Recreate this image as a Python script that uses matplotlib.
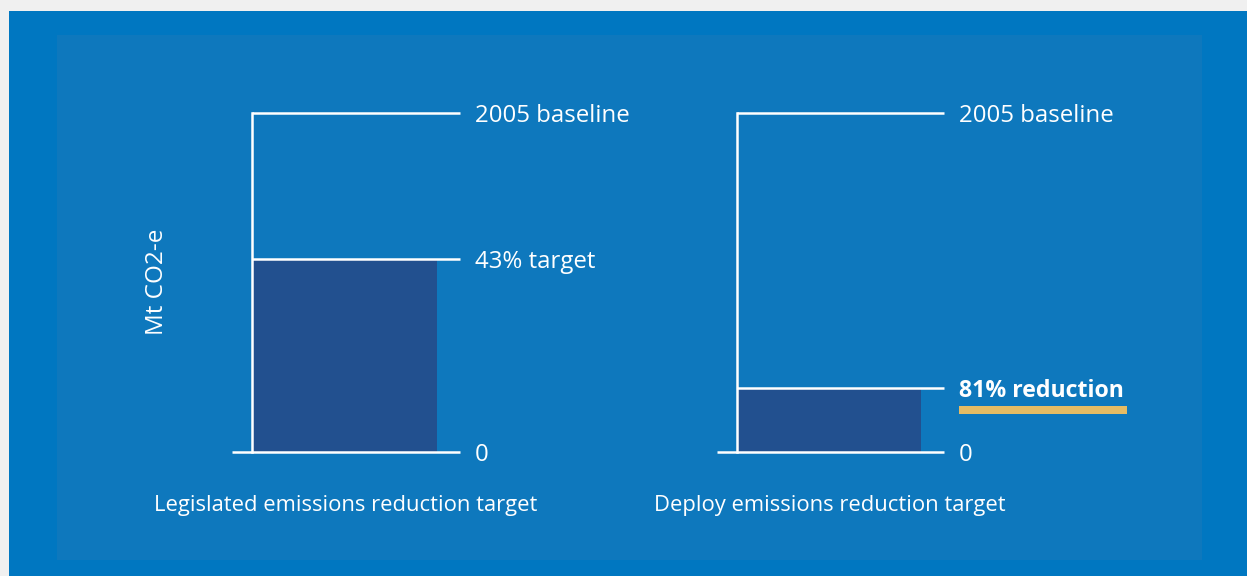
import matplotlib
matplotlib.use("Agg")
import matplotlib.pyplot as plt
from matplotlib.patches import Rectangle

W, H = 1247, 576
DPI = 100

# Emissions relative to the 2005 baseline (baseline = 100)
panel_titles = ["Legislated emissions reduction target", "Deploy emissions reduction target"]
reductions = [43, 81]                     # % cut from 2005 levels
baseline = 100
level_labels = ["43% target", "81% reduction"]
baseline_label = "2005 baseline"
y_label = "Mt CO2-e"

GREY = "#f0f0f0"
OUTER = "#0077c1"
INNER = "#0e78bd"
BAR = "#22508f"
GOLD = "#e5bc64"

plt.rcParams["font.family"] = ["Open Sans", "DejaVu Sans"]

fig = plt.figure(figsize=(W / DPI, H / DPI), dpi=DPI, facecolor=GREY)


def px(x0, y0, w, h):
    """Pixel box (from top-left) -> figure fraction [left, bottom, width, height]."""
    return [x0 / W, 1 - (y0 + h) / H, w / W, h / H]


def fig_rect(box, color, z):
    fig.patches.append(Rectangle((box[0], box[1]), box[2], box[3], transform=fig.transFigure,
                                 facecolor=color, edgecolor="none", zorder=z))


# backgrounds sit below the chart axes
fig_rect(px(9, 11, W - 9, H - 11), OUTER, -10)
fig_rect(px(57, 35, 1145, 525), INNER, -9)

axes_boxes = [px(232, 113, 228, 339), px(717, 113, 227, 339)]
axis_x = [20 / 228, 20 / 227]
bar_right = [205 / 228, 204 / 227]
title_x = [346, 830]


def level_text(ax, y, s, weight="normal", size=17.3):
    # baseline of the text sits ~9px under the line it labels
    ax.annotate(s, xy=(1, y), xytext=(15, -9), textcoords="offset pixels",
                color="white", fontsize=size, fontweight=weight,
                ha="left", va="baseline", annotation_clip=False)


for i, box in enumerate(axes_boxes):
    ax = fig.add_axes(box)
    ax.set_xlim(0, 1)
    ax.set_ylim(0, baseline)
    ax.axis("off")
    remaining = baseline - reductions[i]
    x0 = axis_x[i]
    ax.bar(x0, remaining, width=bar_right[i] - x0, align="edge", color=BAR, zorder=1)
    # frame: zero line, baseline, remaining level, vertical axis
    for xs, ys in [([0, 1], [0, 0]),
                   ([x0, 1], [baseline, baseline]),
                   ([x0, 1], [remaining, remaining])]:
        ax.plot(xs, ys, color="white", lw=1.8, solid_capstyle="butt", zorder=3, clip_on=False)
    ax.plot([x0, x0], [0, baseline], color="white", lw=1.8,
            solid_capstyle="projecting", zorder=3, clip_on=False)

    level_text(ax, baseline, baseline_label)
    level_text(ax, 0, "0")
    if i == 1:
        level_text(ax, remaining, level_labels[i], weight="bold", size=16.7)
    else:
        level_text(ax, remaining, level_labels[i])

    fig.text(title_x[i] / W, 1 - 505 / H, panel_titles[i], color="white",
             fontsize=15.8, ha="center", va="center")

# gold underline under the deploy figure
fig_rect(px(959, 406, 168, 8), GOLD, 5)

fig.text(157 / W, 1 - 282 / H, y_label, color="white", fontsize=17.5,
         rotation=90, ha="center", va="center")

fig.savefig("out.png", dpi=DPI, facecolor=GREY)
